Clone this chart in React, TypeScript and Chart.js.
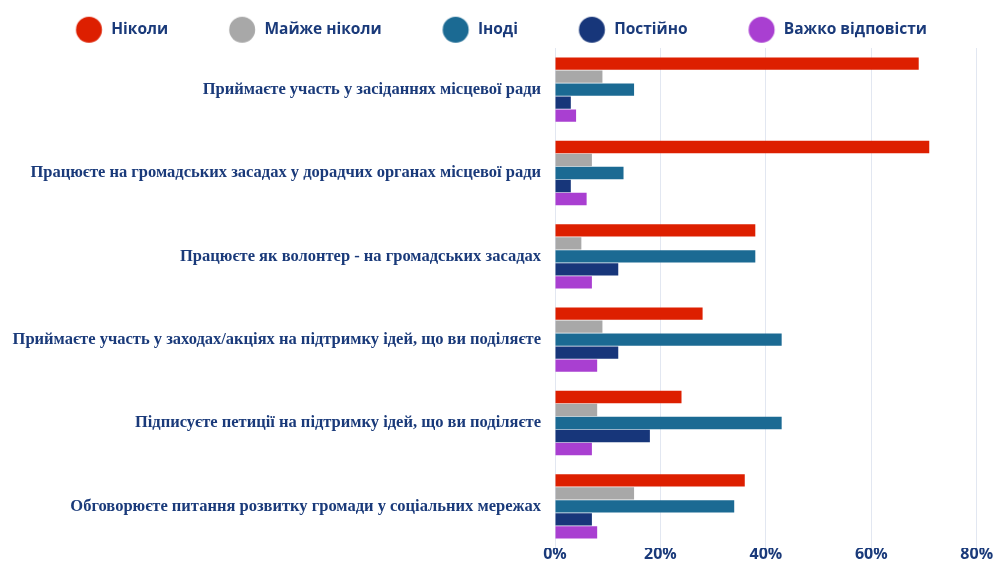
import React, { useEffect, useRef } from "react";
import { Chart, registerables } from "chart.js";

Chart.register(...registerables);

const categories = [
  "Приймаєте участь у засіданнях місцевої ради",
  "Працюєте на громадських засадах у дорадчих органах місцевої ради",
  "Працюєте як волонтер - на громадських засадах",
  "Приймаєте участь у заходах/акціях на підтримку ідей, що ви поділяєте",
  "Підписуєте петиції на підтримку ідей, що ви поділяєте",
  "Обговорюєте питання розвитку громади у соціальних мережах",
];

const seriesNames = ["Ніколи", "Майже ніколи", "Іноді", "Постійно", "Важко відповісти"];

const nikoly = [69, 71, 38, 28, 24, 36];
const mayzheNikoly = [9, 7, 5, 9, 8, 15];
const inodi = [15, 13, 38, 43, 43, 34];
const postiyno = [3, 3, 12, 12, 18, 7];
const vazhkoVidpovisty = [4, 6, 7, 8, 7, 8];

const xTickValues = [0, 20, 40, 60, 80];

const seriesColors = ["#dd1f00", "#a8a8a8", "#1b6a93", "#17367a", "#a93fd1"];
const textColor = "#1a3a7a";

const BOX_W = 67.5;
const IMG_W = 120;
const IMG_H = 30;

function makeCircle(color: string): HTMLCanvasElement {
  const c = document.createElement("canvas");
  c.width = IMG_W;
  c.height = IMG_H;
  const ctx = c.getContext("2d")!;
  const cx = 53 - BOX_W / 2 + IMG_W / 2;
  ctx.fillStyle = color;
  ctx.beginPath();
  ctx.arc(cx, IMG_H / 2, 13, 0, Math.PI * 2);
  ctx.fill();
  return c;
}

export default function App() {
  const ref = useRef<HTMLCanvasElement | null>(null);

  useEffect(() => {
    if (!ref.current) return;
    const circles = seriesColors.map(makeCircle);
    const dataSets = [nikoly, mayzheNikoly, inodi, postiyno, vazhkoVidpovisty];

    const legendFit = {
      id: "legendFit",
      beforeLayout(chart: any) {
        const lg = chart.legend;
        if (lg && !lg.__patched) {
          const orig = lg.fit.bind(lg);
          lg.fit = function () {
            orig();
            this.height = 47;
          };
          lg.__patched = true;
        }
      },
    };

    const chart = new Chart(ref.current, {
      type: "bar",
      data: {
        labels: categories,
        datasets: dataSets.map((d, i) => ({
          label: seriesNames[i],
          data: d,
          backgroundColor: seriesColors[i],
          borderWidth: 0,
          categoryPercentage: 0.78,
          barPercentage: 0.95,
        })),
      },
      options: {
        indexAxis: "y",
        animation: false,
        responsive: true,
        maintainAspectRatio: false,
        layout: { padding: { left: -31, top: 1, right: 0, bottom: 0 } },
        plugins: {
          tooltip: { enabled: false },
          legend: {
            position: "top",
            align: "center",
            labels: {
              usePointStyle: true,
              pointStyleWidth: BOX_W,
              padding: 21,
              color: textColor,
              font: { family: "'Open Sans', 'Noto Sans', sans-serif", size: 15.5, weight: "bold" },
              generateLabels: (c: any) => {
                const items = (Chart.defaults.plugins.legend.labels as any).generateLabels(c);
                return items.map((it: any, i: number) => ({
                  ...it,
                  pointStyle: circles[i],
                  lineWidth: 0,
                  strokeStyle: "transparent",
                }));
              },
            },
          },
        },
        scales: {
          x: {
            min: 0,
            max: 80,
            afterBuildTicks: (scale: any) => {
              scale.ticks = xTickValues.map((v) => ({ value: v }));
            },
            afterFit: (scale: any) => {
              scale.height = 14;
              scale.paddingRight = 17.3;
              scale.paddingLeft = 0;
            },
            grid: { color: "#e2e7f1", drawTicks: false, lineWidth: 1 },
            border: { display: false },
            ticks: {
              padding: -2,
              color: textColor,
              font: { family: "'Open Sans', 'Noto Sans', sans-serif", size: 16, weight: "bold", lineHeight: 1 },
              callback: (v: any) => v + "%",
            },
          },
          y: {
            grid: { display: false, drawTicks: false },
            border: { display: false },
            afterFit: (scale: any) => {
              scale.width = 586;
              scale.paddingTop = 0;
              scale.paddingBottom = 0;
            },
            ticks: {
              padding: 14,
              color: textColor,
              font: { family: "'Liberation Serif', 'Times New Roman', serif", size: 16.5, weight: "bold" },
            },
          },
        },
      },
      plugins: [legendFit],
    } as any);

    return () => chart.destroy();
  }, []);

  return (
    <div style={{ position: "absolute", left: 0, top: 0, width: 994, height: 562, background: "#fff" }}>
      <canvas ref={ref} />
    </div>
  );
}
